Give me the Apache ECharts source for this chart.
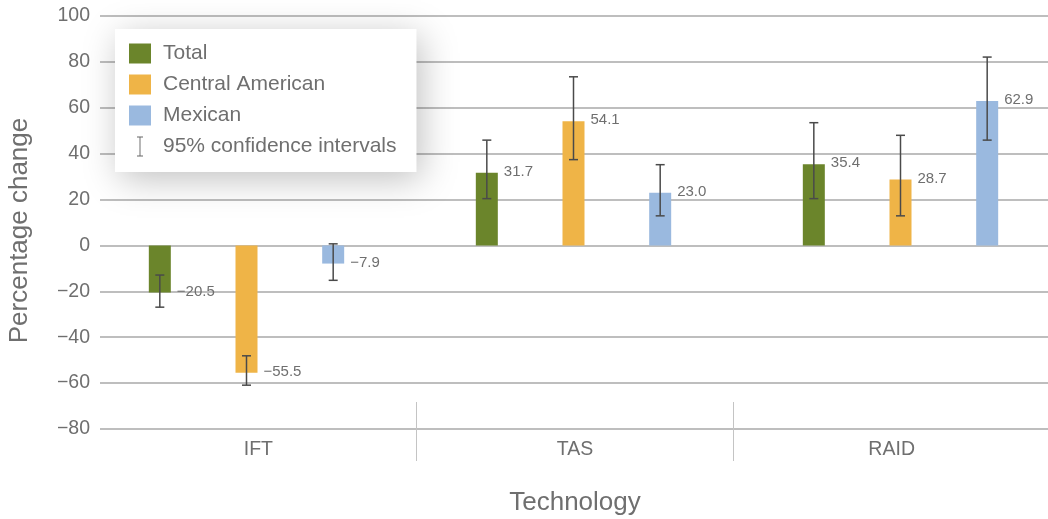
<!DOCTYPE html>
<html>
<head>
<meta charset="utf-8">
<style>
  html, body { margin: 0; padding: 0; background: #ffffff; }
  #chart { width: 1048px; height: 519px; }
</style>
<script src="https://cdn.jsdelivr.net/npm/echarts@6/dist/echarts.min.js"></script>
</head>
<body>
<div id="chart"></div>
<script>
// Percentage change by technology, with 95% confidence intervals
const categories = ['IFT', 'TAS', 'RAID'];
const seriesNames = ['Total', 'Central American', 'Mexican'];
const totalValues = [-20.5, 31.7, 35.4];
const centralValues = [-55.5, 54.1, 28.7];
const mexicanValues = [-7.9, 23.0, 62.9];
// [low, high] of each 95% confidence interval
const totalCI = [[-26.9, -12.9], [20.4, 45.9], [20.4, 53.5]];
const centralCI = [[-60.9, -48.1], [37.4, 73.5], [12.9, 48.0]];
const mexicanCI = [[-15.2, 0.7], [12.9, 35.2], [45.9, 82.1]];
const yMin = -80;
const yMax = 100;
const yStep = 20;

const colors = ['#6b852b', '#efb447', '#9ab9df'];
const textColor = '#6f6f6f';
const fontFamily = '"Liberation Sans", Arial, Helvetica, sans-serif';
const BAR_W = 22;
const BAR_GAP = 2.94; // gap between bars, as a share of the bar width
const ciColor = '#4a4a4a';

const values = [totalValues, centralValues, mexicanValues];
const cis = [totalCI, centralCI, mexicanCI];

const fmt = v => (v < 0 ? '\u2212' : '') + Math.abs(v).toFixed(1);

// one row per bar: [category index, value, ci low, ci high, series index]
const ciRows = [];
values.forEach((vals, s) => {
  vals.forEach((v, c) => {
    ciRows.push([c, v, cis[s][c][0], cis[s][c][1], s]);
  });
});

const chart = echarts.init(document.getElementById('chart'));

const separatorTick = (inside, length) => ({
  show: true,
  inside: inside,
  length: length,
  interval: (i) => i > 0,
  lineStyle: { color: '#c4c4c4', width: 1 }
});

const option = {
  backgroundColor: '#ffffff',
  animation: false,
  textStyle: { fontFamily: fontFamily },
  legend: {
    orient: 'vertical',
    left: 115,
    top: 29,
    padding: [14, 20, 15, 14],
    itemWidth: 22,
    itemHeight: 20,
    itemGap: 10,
    selectedMode: false,
    backgroundColor: '#ffffff',
    shadowBlur: 34,
    shadowColor: 'rgba(0,0,0,0.25)',
    shadowOffsetX: 5,
    shadowOffsetY: 7,
    textStyle: {
      color: textColor,
      fontSize: 21,
      fontFamily: fontFamily,
      lineHeight: 20,
      padding: [0, 0, 0, 7]
    },
    data: [
      { name: 'Total', icon: 'rect' },
      { name: 'Central American', icon: 'rect' },
      { name: 'Mexican', icon: 'rect' },
      {
        name: '95% confidence intervals',
        icon: 'path://M0,0h9v1.4h-3.8v27.2h3.8v1.4h-9v-1.4h3.8v-27.2h-3.8z',
        itemStyle: { color: '#666666' }
      }
    ]
  },
  grid: [
    // frame: gridlines, tick labels, category labels
    { left: 100, width: 950, top: 16, bottom: 90, outerBoundsMode: 'none', containLabel: false },
    // bars, centred on their own categories
    { left: 83, width: 981, top: 16, bottom: 90, outerBoundsMode: 'none', containLabel: false }
  ],
  xAxis: [
    {
      gridIndex: 0,
      type: 'category',
      position: 'bottom',
      data: categories,
      name: 'Technology',
      nameLocation: 'middle',
      nameGap: 61,
      nameTextStyle: { color: textColor, fontSize: 26, fontFamily: fontFamily },
      axisLine: { show: false, onZero: false },
      axisTick: separatorTick(false, 32),
      axisLabel: { color: textColor, fontSize: 19.5, margin: 11, fontFamily: fontFamily }
    },
    {
      gridIndex: 0,
      type: 'category',
      position: 'bottom',
      data: categories,
      axisLine: { show: false, onZero: false },
      axisLabel: { show: false },
      axisTick: separatorTick(true, 27)
    },
    {
      gridIndex: 1,
      type: 'category',
      data: categories,
      show: false
    }
  ],
  yAxis: [
    {
      gridIndex: 0,
      type: 'value',
      min: yMin,
      max: yMax,
      interval: yStep,
      name: 'Percentage change',
      nameLocation: 'middle',
      nameGap: 67,
      nameTextStyle: {
        color: textColor,
        fontSize: 26,
        fontFamily: fontFamily,
        padding: [0, 16, 0, 0]
      },
      axisLine: { show: false },
      axisTick: { show: false },
      axisLabel: {
        color: textColor,
        fontSize: 19.5,
        margin: 10,
        fontFamily: fontFamily,
        formatter: v => (v < 0 ? '\u2212' + Math.abs(v) : String(v))
      },
      splitLine: { show: true, lineStyle: { color: '#a9a9a9', width: 1.5 } }
    },
    {
      gridIndex: 1,
      type: 'value',
      min: yMin,
      max: yMax,
      interval: yStep,
      show: false,
      splitLine: { show: false }
    }
  ],
  series: [
    ...seriesNames.map((name, s) => ({
      name: name,
      type: 'bar',
      xAxisIndex: 2,
      yAxisIndex: 1,
      data: values[s],
      barWidth: BAR_W,
      barGap: (BAR_GAP * 100) + '%',
      itemStyle: { color: colors[s] },
      label: { show: false },
      z: 2
    })),
    {
      name: '95% confidence intervals',
      type: 'custom',
      xAxisIndex: 2,
      yAxisIndex: 1,
      itemStyle: { color: '#666666' },
      data: ciRows,
      encode: { x: 0, y: 1 },
      z: 3,
      renderItem: function (params, api) {
        const cat = api.value(0);
        const v = api.value(1);
        const lo = api.value(2);
        const hi = api.value(3);
        const s = api.value(4);
        const end = api.coord([cat, v]);
        const x = end[0] + (s - 1) * BAR_W * (1 + BAR_GAP);
        const yHi = api.coord([cat, hi])[1];
        const yLo = api.coord([cat, lo])[1];
        const cap = 4.5;
        const stroke = { stroke: ciColor, lineWidth: 1.5 };
        return {
          type: 'group',
          children: [
            { type: 'line', shape: { x1: x, y1: yHi, x2: x, y2: yLo }, style: stroke },
            { type: 'line', shape: { x1: x - cap, y1: yHi, x2: x + cap, y2: yHi }, style: stroke },
            { type: 'line', shape: { x1: x - cap, y1: yLo, x2: x + cap, y2: yLo }, style: stroke },
            {
              type: 'text',
              x: x + BAR_W / 2 + 6,
              y: end[1] - 1,
              style: {
                text: fmt(v),
                fill: textColor,
                fontSize: 15,
                fontFamily: fontFamily,
                align: 'left',
                verticalAlign: 'middle'
              }
            }
          ]
        };
      }
    }
  ]
};

chart.setOption(option);
</script>
</body>
</html>
